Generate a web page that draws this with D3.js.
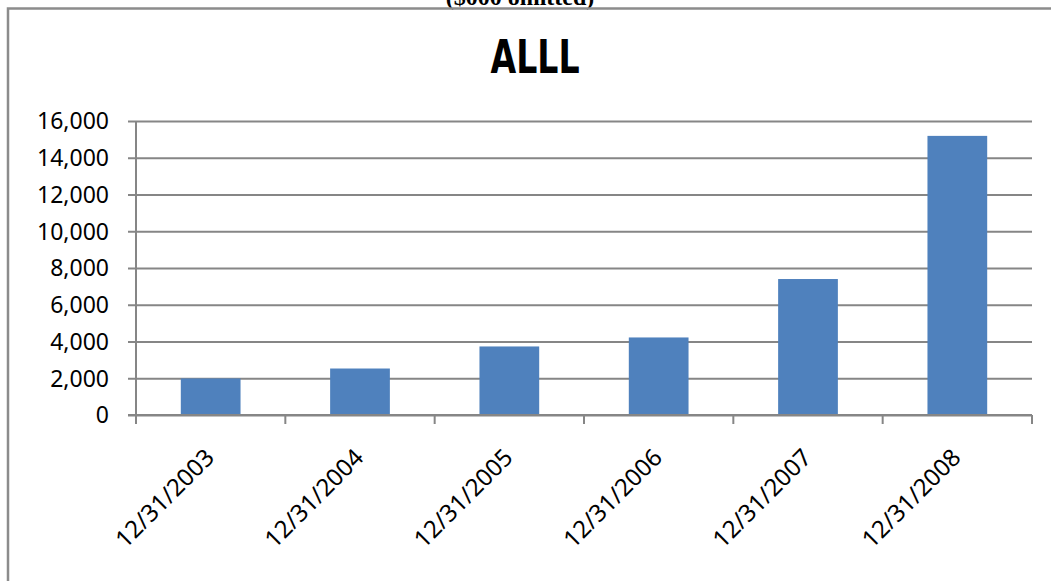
<!DOCTYPE html>
<html lang="en">
<head>
<meta charset="utf-8">
<title>ALLL</title>
<style>
  body { margin: 0; background: #fff; }
  svg { display: block; }
</style>
</head>
<body>
<div id="chart"></div>
<script src="https://d3js.org/d3.v7.min.js"></script>
<script>
// data
const categories = ["12/31/2003", "12/31/2004", "12/31/2005", "12/31/2006", "12/31/2007", "12/31/2008"];
const allll = [1990, 2530, 3730, 4220, 7400, 15190];
const yTicks = [0, 2000, 4000, 6000, 8000, 10000, 12000, 14000, 16000];

const W = 1051, H = 581;
const plotLeft = 136, plotRight = 1032, plotTop = 121, plotBottom = 415;
const gridColor = "#868686";

const svg = d3.select("#chart").append("svg")
    .attr("width", W)
    .attr("height", H);

// page text above the chart frame (cut off at the top, as in the source)
svg.append("text")
    .attr("x", 520).attr("y", 5)
    .attr("text-anchor", "middle")
    .attr("font-family", "Liberation Serif, serif")
    .attr("font-weight", "bold")
    .attr("font-size", 24)
    .text("($000 omitted)");

// chart frame (only top + left edges visible)
svg.append("path")
    .attr("d", `M8,${H} L8,8.5 L${W},8.5`)
    .attr("fill", "none")
    .attr("stroke", "#8c8c8c")
    .attr("stroke-width", 2.5);

// title
svg.append("text")
    .attr("x", 535).attr("y", 73)
    .attr("text-anchor", "middle")
    .attr("font-family", "Liberation Sans Narrow, DejaVu Sans Condensed, sans-serif")
    .attr("font-weight", "bold")
    .attr("font-size", 47)
    .attr("textLength", 89)
    .attr("lengthAdjust", "spacingAndGlyphs")
    .text("ALLL");

const x = d3.scaleBand()
    .domain(categories)
    .range([plotLeft, plotRight])
    .paddingInner(0.6)
    .paddingOuter(0.3);

const y = d3.scaleLinear()
    .domain([0, 16000])
    .range([plotBottom, plotTop]);

// y axis with gridlines
const yAxis = svg.append("g")
    .attr("transform", `translate(${plotLeft},0)`)
    .call(d3.axisLeft(y)
        .tickValues(yTicks)
        .tickSize(8)
        .tickPadding(19)
        .tickFormat(d3.format(",")));

yAxis.select(".domain").remove();
yAxis.selectAll(".tick line")
    .attr("x2", plotRight - plotLeft)
    .attr("x1", -8)
    .attr("stroke", gridColor)
    .attr("stroke-width", 2);
yAxis.selectAll(".tick text")
    .attr("font-family", "Noto Sans, sans-serif")
    .attr("font-size", 23)
    .attr("fill", "#000")
    .attr("dy", "0.34em");

svg.append("line")
    .attr("x1", plotLeft).attr("x2", plotLeft)
    .attr("y1", plotTop).attr("y2", plotBottom + 9)
    .attr("stroke", gridColor)
    .attr("stroke-width", 2);

// bars
svg.selectAll("rect.bar")
    .data(allll)
    .enter().append("rect")
    .attr("class", "bar")
    .attr("x", (d, i) => x(categories[i]))
    .attr("y", d => y(d))
    .attr("width", x.bandwidth())
    .attr("height", d => y(0) - y(d))
    .attr("fill", "#4f81bd");

// x axis line redrawn over bars
svg.append("line")
    .attr("x1", plotLeft - 8).attr("x2", plotRight)
    .attr("y1", plotBottom).attr("y2", plotBottom)
    .attr("stroke", gridColor)
    .attr("stroke-width", 2);

// category boundary ticks
const step = x.step();
const bounds = categories.map(c => x(c) + x.bandwidth() / 2 + step / 2);
svg.selectAll("line.xtick")
    .data(bounds)
    .enter().append("line")
    .attr("class", "xtick")
    .attr("x1", d => d).attr("x2", d => d)
    .attr("y1", plotBottom).attr("y2", plotBottom + 9)
    .attr("stroke", gridColor)
    .attr("stroke-width", 2);

// rotated category labels
svg.selectAll("text.xlabel")
    .data(categories)
    .enter().append("text")
    .attr("class", "xlabel")
    .attr("transform", d => `translate(${x(d) + x.bandwidth() / 2 + 5},${plotBottom + 44}) rotate(-45)`)
    .attr("text-anchor", "end")
    .attr("font-family", "Noto Sans, sans-serif")
    .attr("font-size", 24)
    .attr("fill", "#000")
    .text(d => d);
</script>
</body>
</html>
